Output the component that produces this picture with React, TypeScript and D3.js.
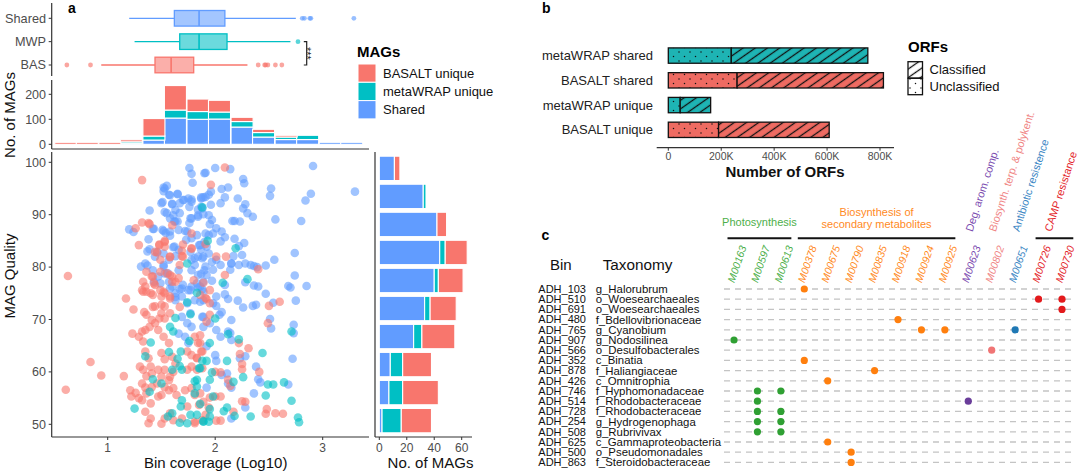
import React, { useEffect, useRef } from 'react';
import * as d3 from 'd3';

const FONT = '"Liberation Sans", Arial, Helvetica, sans-serif';
const RED = '#F8766D';
const TEAL = '#00BFC4';
const BLUE = '#619CFF';
const AXIS = '#333333';
const TICK_TEXT = '#4D4D4D';

// ---------- panel a : coverage boxplots
const boxGroups = ['Shared', 'MWP', 'BAS'];
const boxLow = [1.2, 1.25, 0.94];
const boxQ1 = [1.62, 1.67, 1.44];
const boxMedian = [1.85, 1.85, 1.59];
const boxQ3 = [2.09, 2.11, 1.8];
const boxHigh = [2.75, 2.7, 2.3];
const boxOutliers = [
  [2.81, 2.83, 2.88, 2.89, 3.29],
  [2.77],
  [0.62, 0.84, 2.4, 2.46, 2.47, 2.49, 2.56, 2.62],
];

// ---------- panel a : coverage histogram (log10 bins)
const histCenters = [0.61, 0.81, 1.02, 1.22, 1.43, 1.63, 1.84, 2.04, 2.25, 2.45, 2.66, 2.86, 3.07, 3.27];
const histBinWidth = 0.205;
const histShared = [0, 0, 0, 4, 17, 105, 100, 101, 69, 29, 19, 19, 8, 8];
const histMetaWRAP = [0, 0, 0, 6, 16, 32, 31, 28, 22, 18, 10, 17, 0, 0];
const histBasalt = [8, 8, 8, 8, 70, 98, 50, 47, 17, 13, 7, 0, 0, 0];

// ---------- panel a : quality histogram
const qualityBins = ['95-100', '90-95', '85-90', '80-85', '75-80', '70-75', '65-70', '60-65', '55-60', '50-55'];
const qualShared = [11, 32, 42, 44, 40, 33, 25, 8, 7, 2];
const qualMetaWRAP = [0, 2, 0, 4, 3, 4, 6, 9, 10, 14];
const qualBasalt = [4, 0, 7, 16, 18, 19, 24, 21, 26, 22];

const covTicks = [1, 2, 3];
const qualityTicks = [50, 60, 70, 80, 90, 100];
const histTicks = [0, 100, 200];
const margTicks = [0, 20, 40, 60];
const legendLabels = ['BASALT unique', 'metaWRAP unique', 'Shared'];

// scatter: [log10 coverage, quality]
const sharedPts = [
  [1.2, 87.2], [1.24, 86.7], [1.39, 90.8], [1.43, 87.3], [1.38, 85.3], [1.37, 83.0], [1.31, 80.1], [1.37, 80.3],
  [1.53, 95.0], [1.55, 95.5], [1.51, 92.4], [1.58, 93.7], [1.65, 94.0], [1.53, 90.5], [1.6, 92.1], [1.63, 90.9],
  [1.71, 92.8], [1.75, 93.1], [1.78, 92.9], [1.76, 98.9], [1.78, 97.8], [1.79, 96.1], [1.76, 91.5], [1.67, 92.2],
  [1.78, 89.3], [1.76, 88.4], [1.84, 89.9], [1.88, 91.2], [1.89, 93.3], [1.58, 89.3], [1.62, 88.7], [1.65, 88.7],
  [1.66, 87.1], [1.51, 87.1], [1.54, 86.5], [1.58, 86.0], [1.62, 83.9], [1.66, 83.3], [1.74, 86.8], [1.78, 85.5],
  [1.85, 84.2], [1.44, 82.0], [1.57, 81.4], [1.52, 80.1], [1.53, 78.8], [1.78, 81.4], [1.81, 80.4], [1.88, 81.7],
  [1.43, 77.2], [1.47, 78.2], [1.57, 77.2], [1.6, 76.3], [1.63, 75.0], [1.67, 75.8], [1.7, 76.6], [1.75, 75.6],
  [1.78, 76.3], [1.83, 76.9], [1.88, 75.8], [1.63, 73.7], [1.69, 74.4], [1.74, 73.1], [1.69, 70.5], [1.74, 69.3],
  [1.77, 71.2], [1.78, 68.6], [1.88, 70.5], [1.89, 68.6], [1.66, 67.3], [1.72, 66.7], [1.75, 65.5],
  [2.91, 99.3], [3.3, 94.4], [2.89, 94.0], [2.84, 92.7], [2.8, 88.8], [2.74, 82.7], [2.74, 78.4], [2.85, 76.4],
  [2.68, 76.4], [2.7, 76.1], [2.75, 73.6], [2.73, 69.0], [2.73, 67.4], [2.72, 62.5], [2.68, 57.6], [2.42, 58.0],
  [2.4, 58.6], [2.38, 61.0], [2.36, 55.9], [2.28, 63.0], [2.23, 62.6], [2.28, 53.2], [2.52, 68.3], [2.51, 70.1],
  [2.54, 73.2], [2.47, 74.9], [2.55, 81.4], [2.56, 89.1], [2.52, 95.0], [2.51, 93.6], [2.47, 80.3], [2.36, 76.5],
  [2.4, 76.3], [2.28, 77.1], [2.35, 72.6], [2.38, 72.8], [2.26, 72.3], [2.21, 73.6], [2.12, 73.9], [2.09, 74.8],
  [2.33, 80.4], [2.36, 80.2], [2.39, 80.0], [2.28, 80.7], [2.22, 80.4], [2.15, 80.7], [2.17, 82.1], [2.25, 82.3],
  [2.27, 84.6], [2.22, 84.0], [2.18, 85.4], [2.23, 88.7], [2.18, 88.8], [2.16, 88.8], [2.35, 89.6], [2.3, 90.3],
  [2.26, 91.2], [2.28, 92.0], [2.21, 93.1], [2.26, 96.8], [2.27, 96.0], [2.14, 98.7], [2.0, 98.9], [1.91, 98.0],
  [2.12, 95.2], [2.06, 94.9], [2.09, 93.3], [2.05, 92.2], [1.96, 94.4], [1.94, 93.8], [1.91, 93.4], [1.87, 93.3],
  [1.96, 91.9], [1.87, 91.5], [1.84, 91.0], [1.84, 89.6], [1.89, 90.1], [1.94, 89.9], [1.97, 89.0], [1.95, 88.2],
  [2.01, 87.4], [2.06, 86.8], [2.09, 85.7], [2.05, 84.9], [1.91, 86.4], [1.94, 86.1], [1.98, 86.4], [1.86, 84.2],
  [1.92, 83.9], [1.84, 82.0], [1.89, 82.0], [1.94, 82.6], [1.97, 81.0], [2.01, 81.4], [2.05, 80.4], [1.98, 79.5],
  [1.91, 80.1], [1.87, 78.7], [1.92, 78.5], [2.14, 79.5], [2.15, 80.7], [1.97, 77.4], [1.89, 77.2], [1.84, 76.1],
  [1.89, 75.3], [2.09, 76.6], [2.01, 74.4], [1.98, 73.1], [2.01, 72.6], [1.86, 73.4], [1.81, 73.7], [2.06, 71.4],
  [2.04, 70.9], [2.15, 69.9], [1.89, 70.5], [1.95, 69.3], [2.01, 68.0], [2.05, 66.7], [2.12, 67.7], [2.14, 67.4],
  [2.15, 66.1], [1.92, 64.9], [2.0, 63.2], [2.01, 62.1], [2.06, 59.4], [2.11, 59.7], [2.12, 57.8], [2.15, 57.0],
  [1.92, 57.0], [2.15, 51.1],
  [1.52, 95.2], [1.52, 94.5], [1.65, 93.9], [1.57, 93.8], [1.5, 92.2], [1.6, 92.0], [1.7, 92.8], [1.78, 92.5],
  [1.55, 90.3], [1.61, 89.9], [1.67, 90.3], [1.77, 89.3], [1.87, 93.1], [1.9, 97.9], [1.42, 87.3], [1.52, 86.9],
  [1.58, 86.8], [1.63, 88.7], [1.72, 86.9], [1.73, 85.2], [1.83, 86.1], [1.39, 83.4], [1.46, 82.9], [1.52, 82.6],
  [1.61, 83.8], [1.63, 82.1], [1.77, 82.9], [1.81, 81.7], [1.87, 83.3], [1.9, 84.8], [1.35, 80.7], [1.42, 79.4],
  [1.52, 80.4], [1.56, 78.8], [1.66, 79.4], [1.78, 79.4], [1.84, 78.5], [1.9, 79.4], [1.49, 76.9], [1.58, 75.9],
  [1.69, 75.9], [1.77, 75.6], [1.86, 76.3], [1.63, 74.3], [1.89, 73.7],
];
const basaltPts = [
  [1.32, 96.6], [0.63, 78.3], [1.17, 74.0], [1.24, 71.9], [0.84, 61.9], [0.94, 59.3], [1.15, 59.2], [0.61, 56.6],
  [1.23, 67.3], [1.34, 71.4], [1.26, 87.4], [1.29, 84.2], [1.32, 88.5], [1.39, 88.2], [1.6, 88.0], [1.53, 84.8],
  [1.48, 84.3], [1.53, 83.9], [1.7, 84.3], [1.78, 86.4], [1.78, 83.5], [1.69, 83.1], [1.7, 82.0], [1.58, 81.9],
  [1.46, 82.8], [1.49, 81.4], [1.67, 80.4], [1.33, 77.2], [1.35, 76.3], [1.33, 75.3], [1.41, 78.2], [1.43, 76.9],
  [1.4, 75.0], [1.44, 76.6], [1.49, 75.6], [1.5, 74.4], [1.55, 78.8], [1.6, 78.2], [1.63, 77.2], [1.53, 75.0],
  [1.58, 74.0], [1.8, 77.5], [1.44, 72.5], [1.5, 71.2], [1.53, 72.5], [1.36, 70.9], [1.41, 69.9], [1.44, 69.3],
  [1.48, 70.2], [1.53, 70.2], [1.58, 71.2], [1.35, 68.0], [1.32, 67.7], [1.39, 68.6], [1.29, 66.7], [1.33, 65.8],
  [1.47, 68.0], [1.52, 66.7], [1.57, 65.5], [1.81, 66.7], [1.86, 65.5], [1.35, 63.9], [1.38, 62.6], [1.5, 63.6],
  [1.53, 62.4], [1.6, 62.9], [1.63, 61.6], [1.74, 63.9], [1.78, 63.2], [1.83, 62.6], [1.88, 63.9], [1.3, 61.0],
  [1.33, 60.4], [1.4, 61.0], [1.36, 59.2], [1.41, 59.7], [1.47, 60.4], [1.5, 59.1], [1.53, 60.4], [1.58, 59.1],
  [1.61, 60.0], [1.74, 60.4], [1.78, 61.0], [1.83, 60.4], [1.88, 60.7], [1.32, 57.8], [1.35, 57.0], [1.41, 57.1],
  [1.46, 57.8], [1.53, 57.1], [1.57, 58.4], [1.21, 56.5], [1.22, 55.3], [1.26, 56.0], [1.29, 55.0], [1.32, 54.6],
  [1.36, 55.9], [1.4, 54.0], [1.47, 55.3], [1.5, 55.6], [1.57, 56.5], [1.61, 56.9], [1.64, 55.6], [1.72, 56.5],
  [1.78, 56.9], [1.81, 55.6], [1.86, 55.9], [1.74, 53.4], [1.85, 53.7], [1.89, 54.3], [1.35, 52.4], [1.4, 51.1],
  [1.38, 50.2], [1.5, 50.1], [1.53, 51.1], [1.58, 52.1], [1.61, 50.8], [1.69, 51.1], [1.81, 50.2], [1.88, 50.8],
  [2.09, 99.0], [1.96, 95.7], [1.91, 84.4], [2.1, 82.0], [2.01, 82.0], [2.09, 78.5], [1.89, 77.0], [1.95, 75.6],
  [1.92, 73.9], [1.95, 73.1], [1.86, 74.7], [1.91, 74.1], [1.95, 70.9], [1.92, 69.6], [2.49, 69.3], [2.5, 72.6],
  [2.6, 73.4], [2.4, 79.6], [1.86, 67.0], [1.84, 65.5], [1.87, 63.9], [1.83, 62.7], [2.22, 65.5], [2.31, 64.5],
  [2.23, 63.4], [2.25, 61.5], [2.25, 60.5], [2.41, 60.0], [2.0, 60.0], [2.05, 59.9], [2.12, 58.5], [2.14, 57.3],
  [1.95, 55.1], [2.0, 55.3], [2.05, 55.3], [2.28, 54.3], [2.25, 54.4], [1.94, 53.2], [1.91, 51.8], [2.05, 50.7],
  [2.01, 50.7], [2.17, 52.4], [1.81, 50.5], [2.63, 52.0], [2.56, 52.1], [2.47, 52.0], [2.48, 52.9],
  [1.38, 88.4], [1.48, 84.2], [1.53, 85.0], [1.44, 82.9], [1.58, 82.0], [1.69, 82.1], [1.78, 83.6], [1.36, 79.1],
  [1.42, 78.2], [1.49, 79.1], [1.58, 78.5], [1.6, 77.2], [1.66, 77.9], [1.32, 75.6], [1.36, 75.3], [1.42, 74.7],
  [1.52, 75.3], [1.58, 74.4], [1.67, 72.4], [1.42, 72.4], [1.5, 72.8],
];
const metawrapPts = [
  [1.88, 91.4], [1.74, 80.7], [1.83, 75.1], [1.74, 73.3], [1.63, 70.3], [1.77, 71.0], [1.58, 68.6], [1.61, 67.7],
  [1.4, 65.6], [1.76, 65.9], [1.35, 63.0], [1.57, 63.8], [1.68, 63.9], [1.65, 62.5], [1.88, 62.1], [1.42, 58.6],
  [1.6, 60.4], [1.69, 60.4], [1.67, 61.1], [1.85, 60.7], [1.5, 57.8], [1.39, 56.2], [1.81, 58.2], [1.83, 57.2],
  [1.81, 55.9], [1.69, 54.6], [1.68, 53.4], [1.25, 53.0], [1.56, 51.5], [1.6, 52.1], [1.67, 50.3], [1.74, 50.2],
  [1.77, 51.8], [1.83, 51.8], [1.89, 50.5],
  [2.71, 67.7], [2.64, 58.0], [2.71, 54.5], [2.77, 51.3], [2.78, 50.4], [2.54, 57.6], [2.49, 57.6], [2.47, 55.5],
  [2.44, 63.6], [2.26, 59.0], [2.33, 51.5], [2.3, 77.7], [2.19, 83.6], [1.93, 85.0], [2.07, 77.0], [2.0, 70.2],
  [2.12, 67.2], [2.22, 66.2], [1.95, 65.5], [1.92, 62.1], [1.86, 60.7], [2.11, 62.1], [1.97, 59.9], [1.95, 58.5],
  [1.83, 58.5], [2.17, 58.1], [1.98, 55.3], [1.86, 53.9], [1.95, 52.9], [1.95, 51.5], [1.94, 50.5], [1.89, 50.6],
  [2.08, 52.5], [2.11, 53.2], [2.18, 51.6],
];

// ---------- panel b : ORFs
const orfCategories = ['metaWRAP shared', 'BASALT shared', 'metaWRAP unique', 'BASALT unique'];
const orfUnclassified = [238000, 260000, 45000, 190000];
const orfClassified = [516000, 553000, 115000, 418000];
const orfTicks = [0, 200000, 400000, 600000, 800000];
const orfTickLabels = ['0', '200K', '400K', '600K', '800K'];

// ---------- panel c : KEGG modules
const binIds = ['ADH_103', 'ADH_510', 'ADH_691', 'ADH_480', 'ADH_765', 'ADH_907', 'ADH_566', 'ADH_352', 'ADH_878',
  'ADH_426', 'ADH_746', 'ADH_514', 'ADH_728', 'ADH_254', 'ADH_508', 'ADH_625', 'ADH_500', 'ADH_863'];
const taxa = ['g_Halorubrum', 'o_Woesearchaeales', 'o_Woesearchaeales', 'f_Bdellovibrionaceae', 'g_Cyanobium',
  'g_Nodosilinea', 'o_Desulfobacterales', 'c_Binatia', 'f_Haliangiaceae', 'c_Omnitrophia', 'f_Hyphomonadaceae',
  'f_Rhodobacteraceae', 'f_Rhodobacteraceae', 'g_Hydrogenophaga', 'g_Rubrivivax', 'c_Gammaproteobacteria',
  'o_Pseudomonadales', 'f_Steroidobacteraceae'];
const modules = ['M00163', 'M00597', 'M00613', 'M00378', 'M00675', 'M00790', 'M00835', 'M00918', 'M00924',
  'M00925', 'M00623', 'M00802', 'M00651', 'M00726', 'M00730'];
const moduleCategory = ['photo', 'photo', 'photo', 'bio', 'bio', 'bio', 'bio', 'bio', 'bio', 'bio', 'deg', 'terp',
  'anti', 'camp', 'camp'];
const groupHeaders = [
  { cat: 'photo', lines: ['Photosynthesis'] },
  { cat: 'bio', lines: ['Biosynthesis of', 'secondary metabolites'] },
];
const rotatedHeaders = [
  { cat: 'deg', text: 'Deg. arom. comp.' },
  { cat: 'terp', text: 'Biosynth. terp. & polykent.' },
  { cat: 'anti', text: 'Antibiotic resistence' },
  { cat: 'camp', text: 'CAMP resistance' },
];
const hits = [
  ['ADH_103', 'M00378'], ['ADH_510', 'M00726'], ['ADH_510', 'M00730'], ['ADH_691', 'M00730'],
  ['ADH_480', 'M00918'], ['ADH_765', 'M00924'], ['ADH_765', 'M00925'], ['ADH_765', 'M00651'],
  ['ADH_907', 'M00163'], ['ADH_566', 'M00802'], ['ADH_352', 'M00378'], ['ADH_878', 'M00835'],
  ['ADH_426', 'M00675'], ['ADH_746', 'M00597'], ['ADH_746', 'M00613'], ['ADH_514', 'M00597'],
  ['ADH_514', 'M00623'], ['ADH_728', 'M00597'], ['ADH_728', 'M00613'], ['ADH_254', 'M00597'],
  ['ADH_254', 'M00613'], ['ADH_508', 'M00597'], ['ADH_508', 'M00613'], ['ADH_625', 'M00675'],
  ['ADH_500', 'M00790'], ['ADH_863', 'M00790'],
];

const catText: Record<string, string> = {
  photo: '#4DAF4A', bio: '#FF8A1E', deg: '#7B4BB0', terp: '#F08585', anti: '#3A86C4', camp: '#E4252B',
};
const catDot: Record<string, string> = {
  photo: '#2FA033', bio: '#FF7F0E', deg: '#6A3D9A', terp: '#F07575', anti: '#1F78B4', camp: '#E31A1C',
};

export default function App() {
  const svgRef = useRef<SVGSVGElement>(null);

  useEffect(() => {
    if (!svgRef.current) return;
    const svg = d3.select(svgRef.current);
    svg.selectAll('*').remove();
    svg.attr('font-family', FONT);

    const hline = (g: any, x1: number, x2: number, y: number) =>
      g.append('line').attr('x1', x1).attr('x2', x2).attr('y1', y).attr('y2', y)
        .attr('stroke', AXIS).attr('stroke-width', 1.2);
    const vline = (g: any, x: number, y1: number, y2: number) =>
      g.append('line').attr('x1', x).attr('x2', x).attr('y1', y1).attr('y2', y2)
        .attr('stroke', AXIS).attr('stroke-width', 1.2);

    // ================= panel a =================
    const xCov = d3.scaleLinear().domain([1, 3]).range([107.7, 322.7]);
    const yQ = d3.scaleLinear().domain([50, 100]).range([424.3, 162.3]);
    const yH = d3.scaleLinear().domain([0, 200]).range([144.3, 94.3]);
    const yB = d3.scalePoint<string>().domain(boxGroups).range([18.3, 65]);
    const boxColors = [BLUE, TEAL, RED];

    const a = svg.append('g');
    a.append('text').attr('x', 68).attr('y', 13).attr('font-weight', 'bold').attr('font-size', 14).text('a');

    // boxplots
    vline(a, 51.7, 3, 76);
    boxGroups.forEach((grp, i) => {
      const y = yB(grp)!;
      const col = boxColors[i];
      a.append('line').attr('x1', 48.7).attr('x2', 51.7).attr('y1', y).attr('y2', y).attr('stroke', AXIS);
      a.append('text').attr('x', 46).attr('y', y).attr('dy', '0.35em').attr('text-anchor', 'end')
        .attr('font-size', 12.7).attr('fill', TICK_TEXT).text(grp);
      a.append('line').attr('x1', xCov(boxLow[i])).attr('x2', xCov(boxHigh[i])).attr('y1', y).attr('y2', y)
        .attr('stroke', col).attr('stroke-width', 1.3);
      a.append('rect').attr('x', xCov(boxQ1[i])).attr('y', y - 7.8)
        .attr('width', xCov(boxQ3[i]) - xCov(boxQ1[i])).attr('height', 15.6)
        .attr('fill', '#fff').attr('stroke', 'none');
      a.append('rect').attr('x', xCov(boxQ1[i])).attr('y', y - 7.8)
        .attr('width', xCov(boxQ3[i]) - xCov(boxQ1[i])).attr('height', 15.6)
        .attr('fill', col).attr('fill-opacity', 0.58).attr('stroke', col).attr('stroke-width', 1.3);
      a.append('line').attr('x1', xCov(boxMedian[i])).attr('x2', xCov(boxMedian[i]))
        .attr('y1', y - 7.8).attr('y2', y + 7.8).attr('stroke', col).attr('stroke-width', 1.6);
      a.selectAll(null).data(boxOutliers[i]).enter().append('circle')
        .attr('cx', d => xCov(d)).attr('cy', y).attr('r', 2.4)
        .attr('fill', col).attr('fill-opacity', 0.65);
    });
    // significance bracket
    a.append('path').attr('d', `M303.8,${yB('MWP')} H306.7 V${yB('BAS')} H303.8`)
      .attr('fill', 'none').attr('stroke', '#222').attr('stroke-width', 1.2);
    a.append('text').attr('transform', `translate(310.5,${(yB('MWP')! + yB('BAS')!) / 2}) rotate(90)`)
      .attr('text-anchor', 'middle').attr('dy', '0.7em').attr('font-size', 11).attr('fill', '#222').text('***');

    // coverage histogram
    vline(a, 51.7, 80, 149);
    hline(a, 51.7, 369, 149);
    histTicks.forEach(t => {
      a.append('line').attr('x1', 48.7).attr('x2', 51.7).attr('y1', yH(t)).attr('y2', yH(t)).attr('stroke', AXIS);
      a.append('text').attr('x', 46).attr('y', yH(t)).attr('dy', '0.35em').attr('text-anchor', 'end')
        .attr('font-size', 12.5).attr('fill', TICK_TEXT).text(t);
    });
    a.append('text').attr('transform', 'translate(15,115) rotate(-90)').attr('text-anchor', 'middle')
      .attr('font-size', 15).attr('fill', '#111').text('No. of MAGs');

    const histRows = histCenters.map((c, i) => ({ c, shared: histShared[i], metawrap: histMetaWRAP[i], basalt: histBasalt[i] }));
    const stackKeys = ['shared', 'metawrap', 'basalt'];
    const stackColors = [BLUE, TEAL, RED];
    const hStack = d3.stack<any>().keys(stackKeys)(histRows);
    hStack.forEach((layer, k) => {
      a.selectAll(null).data(layer).enter().append('rect')
        .attr('x', d => xCov(d.data.c - histBinWidth / 2))
        .attr('width', d => xCov(d.data.c + histBinWidth / 2) - xCov(d.data.c - histBinWidth / 2))
        .attr('y', d => yH(d[1]))
        .attr('height', d => Math.max(0, yH(d[0]) - yH(d[1])))
        .attr('fill', stackColors[k]).attr('stroke', '#fff').attr('stroke-width', 1.1);
    });

    // legend MAGs
    a.append('text').attr('x', 357).attr('y', 57).attr('font-weight', 'bold').attr('font-size', 15).text('MAGs');
    const legColors = [RED, TEAL, BLUE];
    legendLabels.forEach((lab, i) => {
      const y = 64 + i * 18.3;
      a.append('rect').attr('x', 358).attr('y', y).attr('width', 18).attr('height', 18.3)
        .attr('fill', legColors[i]).attr('stroke', '#fff').attr('stroke-width', 1);
      a.append('text').attr('x', 383).attr('y', y + 9.2).attr('dy', '0.35em').attr('font-size', 13)
        .attr('fill', '#111').text(lab);
    });

    // scatter
    vline(a, 51.7, 152, 437);
    hline(a, 51.7, 369, 437);
    qualityTicks.forEach(t => {
      a.append('line').attr('x1', 48.7).attr('x2', 51.7).attr('y1', yQ(t)).attr('y2', yQ(t)).attr('stroke', AXIS);
      a.append('text').attr('x', 46).attr('y', yQ(t)).attr('dy', '0.35em').attr('text-anchor', 'end')
        .attr('font-size', 12.5).attr('fill', TICK_TEXT).text(t);
    });
    covTicks.forEach(t => {
      a.append('line').attr('x1', xCov(t)).attr('x2', xCov(t)).attr('y1', 437).attr('y2', 440).attr('stroke', AXIS);
      a.append('text').attr('x', xCov(t)).attr('y', 451.5).attr('text-anchor', 'middle')
        .attr('font-size', 12).attr('fill', TICK_TEXT).text(t);
    });
    a.append('text').attr('x', 215.7).attr('y', 468).attr('text-anchor', 'middle').attr('font-size', 15)
      .attr('fill', '#111').text('Bin coverage (Log10)');
    a.append('text').attr('transform', 'translate(15,276) rotate(-90)').attr('text-anchor', 'middle')
      .attr('font-size', 15).attr('fill', '#111').text('MAG Quality');

    const drawPts = (pts: number[][], col: string) => {
      a.append('g').selectAll('circle').data(pts).enter().append('circle')
        .attr('cx', d => xCov(d[0])).attr('cy', d => yQ(d[1])).attr('r', 4.3)
        .attr('fill', col).attr('fill-opacity', 0.6);
    };
    drawPts(sharedPts, BLUE);
    drawPts(basaltPts, RED);
    drawPts(metawrapPts, TEAL);

    // quality marginal histogram
    const xM = d3.scaleLinear().domain([0, 60]).range([379.3, 461.7]);
    const yM = d3.scaleBand<string>().domain(qualityBins).range([154.5, 434.5]).paddingInner(0.13).paddingOuter(0.06);
    vline(a, 375, 152, 437);
    hline(a, 375, 472, 437);
    margTicks.forEach(t => {
      a.append('line').attr('x1', xM(t)).attr('x2', xM(t)).attr('y1', 437).attr('y2', 440).attr('stroke', AXIS);
      a.append('text').attr('x', xM(t)).attr('y', 451.5).attr('text-anchor', 'middle')
        .attr('font-size', 12).attr('fill', TICK_TEXT).text(t);
    });
    a.append('text').attr('x', 430.5).attr('y', 468).attr('text-anchor', 'middle').attr('font-size', 15)
      .attr('fill', '#111').text('No. of MAGs');
    const qRows = qualityBins.map((b, i) => ({ b, shared: qualShared[i], metawrap: qualMetaWRAP[i], basalt: qualBasalt[i] }));
    const qStack = d3.stack<any>().keys(stackKeys)(qRows);
    qStack.forEach((layer, k) => {
      a.selectAll(null).data(layer).enter().append('rect')
        .attr('x', d => xM(d[0])).attr('width', d => Math.max(0, xM(d[1]) - xM(d[0])))
        .attr('y', d => yM(d.data.b)!).attr('height', yM.bandwidth())
        .attr('fill', stackColors[k]).attr('stroke', '#fff').attr('stroke-width', 1.1);
    });

    // ================= panel b =================
    const b = svg.append('g');
    b.append('text').attr('x', 542).attr('y', 13).attr('font-weight', 'bold').attr('font-size', 14).text('b');
    const defs = svg.append('defs');
    const stripe = defs.append('pattern').attr('id', 'stripe').attr('patternUnits', 'userSpaceOnUse')
      .attr('width', 12).attr('height', 7).attr('patternTransform', 'rotate(-35)');
    stripe.append('line').attr('x1', -1).attr('x2', 13).attr('y1', 3.5).attr('y2', 3.5)
      .attr('stroke', '#111').attr('stroke-width', 1.3);
    const dots = defs.append('pattern').attr('id', 'dots').attr('patternUnits', 'userSpaceOnUse')
      .attr('width', 11).attr('height', 9);
    dots.append('circle').attr('cx', 2.5).attr('cy', 2.5).attr('r', 0.75).attr('fill', '#111');
    dots.append('circle').attr('cx', 8).attr('cy', 7).attr('r', 0.75).attr('fill', '#111');

    const xO = d3.scaleLinear().domain([0, 800000]).range([668.3, 880]);
    const yO = d3.scaleBand<string>().domain(orfCategories).range([43.2, 142.2]).paddingInner(0.38).paddingOuter(0.19);
    const orfColors = ['#1EB4B4', '#EE6B62', '#1EB4B4', '#EE6B62'];
    orfCategories.forEach((cat, i) => {
      const y = yO(cat)!;
      const h = yO.bandwidth();
      const xu = xO(orfUnclassified[i]);
      const xt = xO(orfUnclassified[i] + orfClassified[i]);
      b.append('text').attr('x', 653).attr('y', y + h / 2).attr('dy', '0.35em').attr('text-anchor', 'end')
        .attr('font-size', 13).attr('fill', '#222').text(cat);
      [[xO(0), xu, 'url(#dots)'], [xu, xt, 'url(#stripe)']].forEach(([x0, x1, pat]: any) => {
        b.append('rect').attr('x', x0).attr('y', y).attr('width', x1 - x0).attr('height', h).attr('fill', orfColors[i]);
        b.append('rect').attr('x', x0).attr('y', y).attr('width', x1 - x0).attr('height', h)
          .attr('fill', pat).attr('stroke', '#111').attr('stroke-width', 1.3);
      });
    });
    hline(b, 656.7, 894, 147.7);
    orfTicks.forEach((t, i) => {
      b.append('line').attr('x1', xO(t)).attr('x2', xO(t)).attr('y1', 147.7).attr('y2', 150.7).attr('stroke', AXIS);
      b.append('text').attr('x', xO(t)).attr('y', 160).attr('text-anchor', 'middle')
        .attr('font-size', 10.5).attr('fill', TICK_TEXT).text(orfTickLabels[i]);
    });
    b.append('text').attr('x', 785).attr('y', 177).attr('text-anchor', 'middle').attr('font-weight', 'bold')
      .attr('font-size', 15).attr('fill', '#111').text('Number of ORFs');
    // legend ORFs
    b.append('text').attr('x', 908).attr('y', 52).attr('font-weight', 'bold').attr('font-size', 15).text('ORFs');
    [['url(#stripe)', 'Classified'], ['url(#dots)', 'Unclassified']].forEach(([pat, lab], i) => {
      const y = 61.7 + i * 16.5;
      b.append('rect').attr('x', 908).attr('y', y).attr('width', 14.5).attr('height', 16.5)
        .attr('fill', pat).attr('stroke', '#111').attr('stroke-width', 1.3);
      b.append('text').attr('x', 929.5).attr('y', y + 8.2).attr('dy', '0.35em').attr('font-size', 13)
        .attr('fill', '#111').text(lab);
    });

    // ================= panel c =================
    const c = svg.append('g');
    c.append('text').attr('x', 541.5).attr('y', 239.5).attr('font-weight', 'bold').attr('font-size', 14).text('c');
    c.append('text').attr('x', 550).attr('y', 270).attr('font-size', 15).attr('fill', '#111').text('Bin');
    c.append('text').attr('x', 602.7).attr('y', 270).attr('font-size', 15.3).attr('fill', '#111').text('Taxonomy');

    const xC = d3.scalePoint<string>().domain(modules).range([734, 1062]);
    const yR = d3.scalePoint<string>().domain(binIds).range([289, 462.4]);

    binIds.forEach((id, i) => {
      const y = yR(id)!;
      c.append('line').attr('x1', 724).attr('x2', 1073).attr('y1', y).attr('y2', y)
        .attr('stroke', '#c4c4c4').attr('stroke-width', 1.3).attr('stroke-dasharray', '6,5');
      c.append('text').attr('x', 538.3).attr('y', y).attr('dy', '0.35em').attr('font-size', 11)
        .attr('fill', '#111').text(id);
      c.append('text').attr('x', 595.7).attr('y', y).attr('dy', '0.35em').attr('font-size', 11.4)
        .attr('fill', '#111').text(taxa[i]);
    });

    c.selectAll('circle.hit').data(hits).enter().append('circle').attr('class', 'hit')
      .attr('cx', d => xC(d[1])!).attr('cy', d => yR(d[0])!).attr('r', 3.6)
      .attr('fill', d => catDot[moduleCategory[modules.indexOf(d[1])]]);

    modules.forEach((m, i) => {
      c.append('text').attr('transform', `translate(${xC(m)! + 3},${264}) rotate(-71)`)
        .attr('text-anchor', 'middle').attr('dy', '0.35em').attr('font-size', 10.5)
        .attr('font-style', 'italic').attr('fill', catText[moduleCategory[i]]).text(m);
    });

    groupHeaders.forEach(gh => {
      const ms = modules.filter((m, i) => moduleCategory[i] === gh.cat);
      const x0 = xC(ms[0])! - 6.5;
      const x1 = xC(ms[ms.length - 1])! + 10.5;
      c.append('line').attr('x1', x0).attr('x2', x1).attr('y1', 238.3).attr('y2', 238.3)
        .attr('stroke', '#111').attr('stroke-width', 2);
      gh.lines.forEach((ln, j) => {
        c.append('text').attr('x', (x0 + x1) / 2).attr('y', 225.5 - (gh.lines.length - 1 - j) * 12.2 + (gh.lines.length - 1) * 2.7)
          .attr('text-anchor', 'middle').attr('font-size', 11).attr('fill', catText[gh.cat]).text(ln);
      });
    });
    // CAMP bracket line
    const campMods = modules.filter((m, i) => moduleCategory[i] === 'camp');
    c.append('line').attr('x1', xC(campMods[0])! - 3).attr('x2', xC(campMods[1])! + 11.3)
      .attr('y1', 238.3).attr('y2', 238.3).attr('stroke', '#111').attr('stroke-width', 2);

    rotatedHeaders.forEach(rh => {
      const ms = modules.filter((m, i) => moduleCategory[i] === rh.cat);
      const cx = d3.mean(ms.map(m => xC(m)!))! + (ms.length > 1 ? -2.5 : 0.5);
      c.append('text').attr('transform', `translate(${cx},${231}) rotate(-72)`)
        .attr('dy', '0.35em').attr('font-size', 10.8).attr('fill', catText[rh.cat]).text(rh.text);
    });
  }, []);

  return (
    <svg ref={svgRef} width={1080} height={472}
      style={{ position: 'absolute', left: 0, top: 0, background: '#fff' }} />
  );
}
